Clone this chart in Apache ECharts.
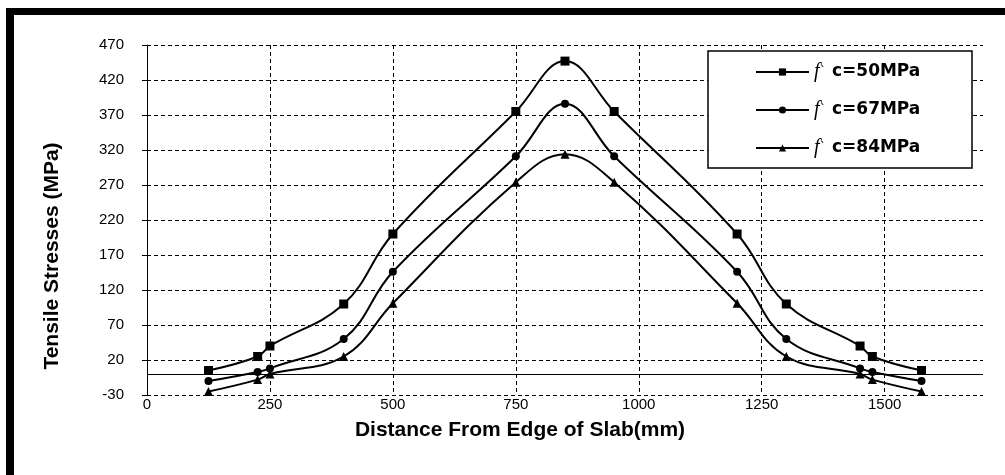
<!DOCTYPE html>
<html>
<head>
<meta charset="utf-8">
<script src="https://cdn.jsdelivr.net/npm/echarts@6/dist/echarts.min.js"></script>
<style>
  html, body { margin: 0; padding: 0; background: #fff; }
  #chart { width: 1005px; height: 475px; }
</style>
</head>
<body>
<div id="chart"></div>
<script>
// Distance from the slab edge (mm) at each measuring point
const distances = [125, 225, 250, 400, 500, 750, 850, 950, 1200, 1300, 1450, 1475, 1575];
// Tensile stresses (MPa) for each concrete strength
const stress50 = [5, 25, 40, 100, 200, 375, 447, 375, 200, 100, 40, 25, 5];
const stress67 = [-10, 3, 8, 50, 146, 311, 386, 311, 146, 50, 8, 3, -10];
const stress84 = [-25, -8, 0, 25, 101, 274, 314, 274, 101, 25, 0, -8, -25];
const seriesNames = ['f` c=50MPa', 'f` c=67MPa', 'f` c=84MPa'];
const xTickValues = [0, 250, 500, 750, 1000, 1250, 1500];

const FONT = "'Liberation Sans', Arial, sans-serif";

function pairs(vals) {
  return distances.map((d, i) => [d, vals[i]]);
}

function lineSeries(name, vals, symbol, size, extra) {
  return Object.assign({
    name: name,
    type: 'line',
    smooth: 0.4,
    symbol: symbol,
    symbolSize: size,
    showAllSymbol: true,
    lineStyle: { color: '#000', width: 2 },
    itemStyle: { color: '#000' },
    emphasis: { disabled: true },
    data: pairs(vals),
    z: 3
  }, extra || {});
}

const chart = echarts.init(document.getElementById('chart'), null, { renderer: 'canvas' });

chart.setOption({
  animation: false,
  backgroundColor: '#fff',
  grid: { left: 147, right: 22, top: 45, bottom: 80, containLabel: false },
  xAxis: {
    type: 'value',
    min: 0,
    max: 1700,
    interval: 250,
    name: 'Distance From Edge of Slab(mm)',
    nameLocation: 'middle',
    nameGap: 25,
    nameTextStyle: { fontFamily: FONT, fontWeight: 'bold', fontSize: 21, color: '#000', padding: [0, 90, 0, 0] },
    axisLine: { show: false, onZero: false },
    axisTick: { show: false, customValues: xTickValues },
    axisLabel: {
      customValues: xTickValues,
      showMaxLabel: true,
      showMinLabel: true,
      formatter: v => String(v),
      margin: 2,
      fontFamily: FONT, fontSize: 15, color: '#000'
    },
    splitLine: { show: true, lineStyle: { color: '#000', width: 1, type: [4, 3] } }
  },
  yAxis: {
    type: 'value',
    min: -30,
    max: 470,
    interval: 50,
    name: 'Tensile Stresses (MPa)',
    nameLocation: 'middle',
    nameRotate: 90,
    nameGap: 84,
    nameTextStyle: { fontFamily: FONT, fontWeight: 'bold', fontSize: 21, color: '#000', padding: [0, 72, 0, 0] },
    axisLine: { show: true, onZero: false, lineStyle: { color: '#000', width: 1 } },
    axisTick: { show: true, length: 5, lineStyle: { color: '#000', width: 1 } },
    axisLabel: { margin: 23, fontFamily: FONT, fontSize: 15, color: '#000' },
    splitLine: { show: true, lineStyle: { color: '#000', width: 1, type: [4, 3] } }
  },
  legend: {
    orient: 'vertical',
    left: 708,
    top: 51,
    padding: [11, 44, 10, 47],
    itemWidth: 53,
    itemHeight: 9,
    itemGap: 18,
    itemTextGap: 3,
    backgroundColor: '#fff',
    borderColor: '#000',
    borderWidth: 1.5,
    data: seriesNames,
    formatter: n => '{f|f}{a|`}' + n.slice(2),
    textStyle: {
      fontFamily: "'DejaVu Sans', sans-serif",
      fontWeight: 'bold',
      fontSize: 17,
      lineHeight: 20,
      color: '#000',
      width: 114,
      rich: {
        f: { fontFamily: "'Liberation Serif', serif", fontStyle: 'italic', fontWeight: 'normal', fontSize: 20, lineHeight: 20, color: '#000' },
        a: { fontFamily: "'DejaVu Sans', sans-serif", fontWeight: 'normal', fontSize: 13, lineHeight: 20, color: '#000' }
      }
    }
  },
  series: [
    lineSeries(seriesNames[0], stress50, 'rect', 9, {
      markLine: {
        silent: true,
        symbol: 'none',
        label: { show: false },
        lineStyle: { color: '#000', width: 1, type: 'solid' },
        data: [{ yAxis: 0 }],
        z: 2
      }
    }),
    lineSeries(seriesNames[1], stress67, 'circle', 8),
    lineSeries(seriesNames[2], stress84, 'triangle', 9)
  ],
  graphic: [
    { type: 'rect', shape: { x: 6, y: 8, width: 999, height: 7 }, style: { fill: '#000' }, silent: true },
    { type: 'rect', shape: { x: 6, y: 8, width: 8, height: 467 }, style: { fill: '#000' }, silent: true }
  ]
});
</script>
</body>
</html>
